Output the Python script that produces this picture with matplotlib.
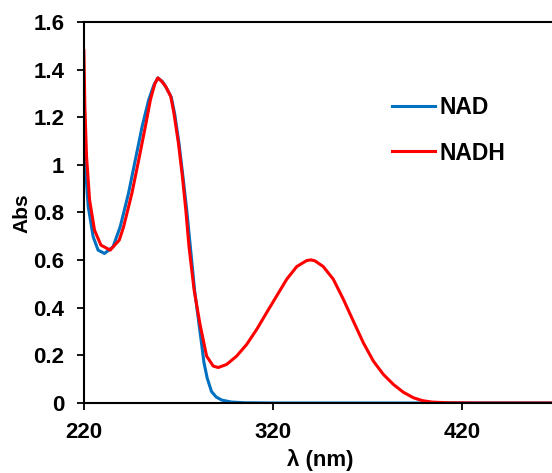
import numpy as np
import matplotlib
matplotlib.use('Agg')
import matplotlib.pyplot as plt

plt.rcParams['font.family'] = ['Liberation Sans', 'DejaVu Sans']
plt.rcParams['font.weight'] = 'bold'

# absorbance spectra (wavelength in nm)
nad_wl = [220, 221, 222.3, 224.9, 227.5, 230.9, 235.4, 239.2, 243.6, 247.2, 250.8, 254.3,
          257, 259.1, 261.5, 263.5, 266.2, 268, 270.3, 272.4, 274.4, 276.3, 278.6, 281.9,
          283.5, 285.2, 287.5, 290, 293, 298, 305, 320, 350, 400, 480]
nad_abs = [1.19, 0.965, 0.824, 0.698, 0.642, 0.628, 0.656, 0.740, 0.881, 1.021, 1.161, 1.274,
           1.335, 1.365, 1.350, 1.325, 1.285, 1.215, 1.09, 0.95, 0.81, 0.656, 0.47, 0.27,
           0.17, 0.105, 0.048, 0.025, 0.012, 0.004, 0.001, 0.0, 0.0, 0.0, 0.0]

nadh_wl = [220, 220.5, 221.4, 223, 225.6, 229, 233.9, 238.7, 241, 245.4, 249, 252.5, 255.2,
           257.5, 259.1, 261, 263.2, 265.9, 267.6, 270, 272.1, 273.9, 275.6, 278.3, 281.4,
           284.9, 288.4, 291.1, 295.5, 300.8, 306.1, 311.4, 316.7, 322, 327.3, 332.6, 337.8,
           340, 342.2, 346.6, 351.9, 357.2, 362.5, 367.8, 373.1, 378.4, 383.7, 389, 394.3,
           399, 404, 412, 430, 480]
nadh_abs = [1.48, 1.245, 1.035, 0.853, 0.726, 0.663, 0.642, 0.684, 0.740, 0.881, 1.021, 1.161,
            1.274, 1.34, 1.365, 1.352, 1.33, 1.288, 1.218, 1.091, 0.951, 0.811, 0.656, 0.474,
            0.331, 0.197, 0.155, 0.149, 0.162, 0.197, 0.246, 0.309, 0.38, 0.45, 0.52, 0.573,
            0.598, 0.601, 0.597, 0.573, 0.52, 0.436, 0.344, 0.253, 0.176, 0.12, 0.078, 0.045,
            0.022, 0.01, 0.004, 0.001, 0.0, 0.0]

x_ticks = [220, 320, 420]
y_ticks = [0, 0.2, 0.4, 0.6, 0.8, 1, 1.2, 1.4, 1.6]
y_tick_labels = ['0', '0.2', '0.4', '0.6', '0.8', '1', '1.2', '1.4', '1.6']

fig = plt.figure(figsize=(5.52, 4.73), dpi=100)
ax = fig.add_axes([0.152, 0.148, 0.848, 0.8055])

ax.plot(nad_wl, nad_abs, color='#0070C0', lw=2.2, label='NAD')
ax.plot(nadh_wl, nadh_abs, color='#FF0000', lw=2.2, label='NADH')

ax.set_xlim(220, 467.6)
ax.set_ylim(0, 1.6)
ax.set_xticks(x_ticks)
ax.set_yticks(y_ticks)
ax.set_yticklabels(y_tick_labels)
ax.tick_params(direction='out', length=5, width=1.3, labelsize=16)
ax.tick_params(axis='x', pad=9)
ax.tick_params(axis='y', pad=9)
for s in ['left', 'bottom', 'top']:
    ax.spines[s].set_linewidth(1.5)
ax.spines['right'].set_visible(False)

ax.set_xlabel('λ (nm)', fontsize=16, fontweight='bold')
ax.set_ylabel('Abs', fontsize=15, fontweight='bold')
ax.xaxis.set_label_coords(0.504, -0.122)
ax.yaxis.set_label_coords(-0.113, 0.498)

ax.legend(loc='upper left', bbox_to_anchor=(0.658, 0.805), frameon=False,
          fontsize=16.5, handlelength=1.9, handletextpad=0.17, labelspacing=0.97,
          borderpad=0, borderaxespad=0)

fig.savefig('out.png', dpi=100)
